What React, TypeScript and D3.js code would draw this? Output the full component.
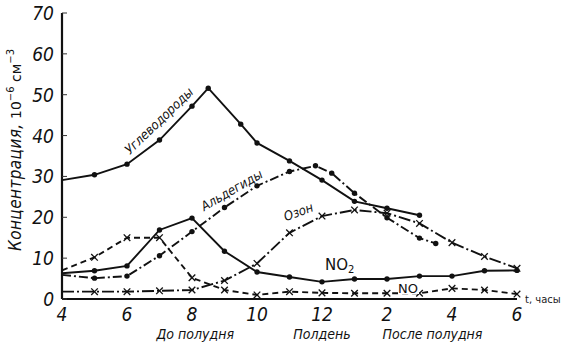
import React from "react";
import * as d3 from "d3";

const W = 564;
const H = 344;

// hours (4 = 4 a.m., 18 = 6 p.m.), concentration values
const hydrocarbons: [number, number][] = [
  [4, 29.1], [5, 30.4], [6, 33.0], [7, 38.9], [8, 47.2], [8.5, 51.6], [9.5, 42.8],
  [10, 38.2], [11, 33.8], [12, 29.1], [13, 23.9], [14, 22.2], [15, 20.5],
];
const aldehydes: [number, number][] = [
  [4, 5.9], [5, 5.1], [6, 5.6], [7, 10.6], [8, 16.5], [9, 22.4], [10, 27.7],
  [11, 31.2], [11.8, 32.6], [12.3, 30.8], [13, 25.9], [14, 19.9], [15, 14.9], [15.5, 13.6],
];
const ozone: [number, number][] = [
  [4, 1.8], [5, 1.8], [6, 1.8], [7, 2.0], [8, 2.2], [9, 4.5], [10, 8.7], [11, 16.2],
  [12, 20.3], [13, 21.8], [14, 21.0], [15, 18.5], [16, 13.8], [17, 10.4], [18, 7.5],
];
const no: [number, number][] = [
  [4, 7.0], [5, 10.2], [6, 15.0], [7, 15.0], [8, 5.2], [9, 2.2], [10, 1.0], [11, 1.8],
  [12, 1.5], [13, 1.4], [14, 1.4], [15, 1.4], [16, 2.6], [17, 2.2], [18, 1.2],
];
const no2: [number, number][] = [
  [4, 6.3], [5, 6.9], [6, 8.1], [7, 16.9], [8, 19.8], [9, 11.7], [10, 6.6], [11, 5.4],
  [12, 4.2], [13, 4.9], [14, 4.9], [15, 5.6], [16, 5.6], [17, 6.9], [18, 7.0],
];

const xTickValues = [4, 6, 8, 10, 12, 14, 16, 18];
const xTickLabels = ["4", "6", "8", "10", "12", "2", "4", "6"];
const yTickValues = [0, 10, 20, 30, 40, 50, 60, 70];
const periodLabels: [number, string][] = [[8.1, "До полудня"], [12, "Полдень"], [15.4, "После полудня"]];

const x = d3.scaleLinear().domain([4, 18]).range([62, 517]);
const y = d3.scaleLinear().domain([0, 70]).range([299, 13]);

const line = d3
  .line<[number, number]>()
  .x((d) => x(d[0]))
  .y((d) => y(d[1]));

const italicFont = "'Liberation Sans Narrow', 'DejaVu Sans Condensed', 'Liberation Sans', sans-serif";

type Series = { data: [number, number][]; dash?: string; marker: "dot" | "x" };
const series: Series[] = [
  { data: hydrocarbons, marker: "dot" },
  { data: no2, marker: "dot" },
  { data: aldehydes, dash: "9,3,2,3", marker: "dot" },
  { data: ozone, dash: "12,3,2,3", marker: "x" },
  { data: no, dash: "6,4", marker: "x" },
];

function Marker({ d, kind }: { d: [number, number]; kind: "dot" | "x" }) {
  const cx = x(d[0]);
  const cy = y(d[1]);
  if (kind === "dot") return <circle cx={cx} cy={cy} r={2.7} fill="#111" />;
  const s = 3.3;
  return (
    <g stroke="#111" strokeWidth={1.3}>
      <line x1={cx - s} y1={cy - s} x2={cx + s} y2={cy + s} />
      <line x1={cx - s} y1={cy + s} x2={cx + s} y2={cy - s} />
    </g>
  );
}

export default function App() {
  return (
    <div style={{ position: "absolute", left: 0, top: 0 }}>
      <svg width={W} height={H} style={{ display: "block", background: "#fff" }}>
        {/* axes */}
        <line x1={62} y1={y(70)} x2={62} y2={y(0)} stroke="#111" strokeWidth={2.2} />
        <line x1={62} y1={y(0)} x2={x(18)} y2={y(0)} stroke="#111" strokeWidth={2.2} />
        {yTickValues.map((v) => (
          <g key={v}>
            <line x1={62} x2={67} y1={y(v)} y2={y(v)} stroke="#333" strokeWidth={1} />
            <text
              x={54}
              y={y(v) + 7}
              textAnchor="end"
              fontSize={19}
              fontStyle="italic"
              fontFamily={italicFont}
              fill="#111"
            >
              {v}
            </text>
          </g>
        ))}
        {xTickValues.map((v, i) => (
          <text
            key={v}
            x={x(v)}
            y={321}
            textAnchor="middle"
            fontSize={19}
            fontStyle="italic"
            fontFamily={italicFont}
            fill="#111"
          >
            {xTickLabels[i]}
          </text>
        ))}
        {periodLabels.map(([h, t]) => (
          <text
            key={t}
            x={x(h)}
            y={339}
            textAnchor="middle"
            fontSize={14}
            fontStyle="italic"
            fontFamily={italicFont}
            fill="#111"
          >
            {t}
          </text>
        ))}
        <text x={525} y={303} fontSize={10} fontFamily="'DejaVu Sans', sans-serif" fill="#222">
          t, часы
        </text>

        {/* y axis title */}
        <text
          transform="translate(21,150) rotate(-90)"
          textAnchor="middle"
          fontSize={17}
          fontFamily={italicFont}
          fill="#111"
        >
          <tspan fontStyle="italic" letterSpacing={0.4}>Концентрация,</tspan>
          <tspan fontFamily="'DejaVu Sans', sans-serif" fontSize={14}>   10</tspan>
          <tspan fontFamily="'DejaVu Sans', sans-serif" fontSize={10} dy={-7}>−6</tspan>
          <tspan fontFamily="'DejaVu Sans', sans-serif" fontSize={14} dy={7}>   см</tspan>
          <tspan fontFamily="'DejaVu Sans', sans-serif" fontSize={10} dy={-7}>−3</tspan>
        </text>

        {/* series */}
        {series.map((s, i) => (
          <g key={i}>
            <path d={line(s.data) || ""} fill="none" stroke="#111" strokeWidth={1.9} strokeDasharray={s.dash} />
            {s.data.slice(1).map((d, j) => (
              <Marker key={j} d={d} kind={s.marker} />
            ))}
          </g>
        ))}

        {/* curve labels */}
        <text
          transform="translate(162,124) rotate(-44)"
          textAnchor="middle"
          fontSize={13}
          fontStyle="italic"
          fontFamily={italicFont}
          fill="#111"
        >
          Углеводороды
        </text>
        <text
          transform="translate(234,194) rotate(-30)"
          textAnchor="middle"
          fontSize={13}
          fontStyle="italic"
          fontFamily={italicFont}
          fill="#111"
        >
          Альдегиды
        </text>
        <text
          transform="translate(300,216) rotate(-20)"
          textAnchor="middle"
          fontSize={13}
          fontStyle="italic"
          fontFamily={italicFont}
          fill="#111"
        >
          Озон
        </text>
        <text x={325} y={270} fontSize={15} fontFamily="'DejaVu Sans', sans-serif" fill="#111">
          NO
          <tspan fontSize={10} dy={3}>2</tspan>
        </text>
        <rect x={398} y={283} width={21} height={11} fill="#fff" />
        <text x={398} y={293} fontSize={13} fontFamily="'DejaVu Sans', sans-serif" fill="#111">
          NO
        </text>
      </svg>
    </div>
  );
}
